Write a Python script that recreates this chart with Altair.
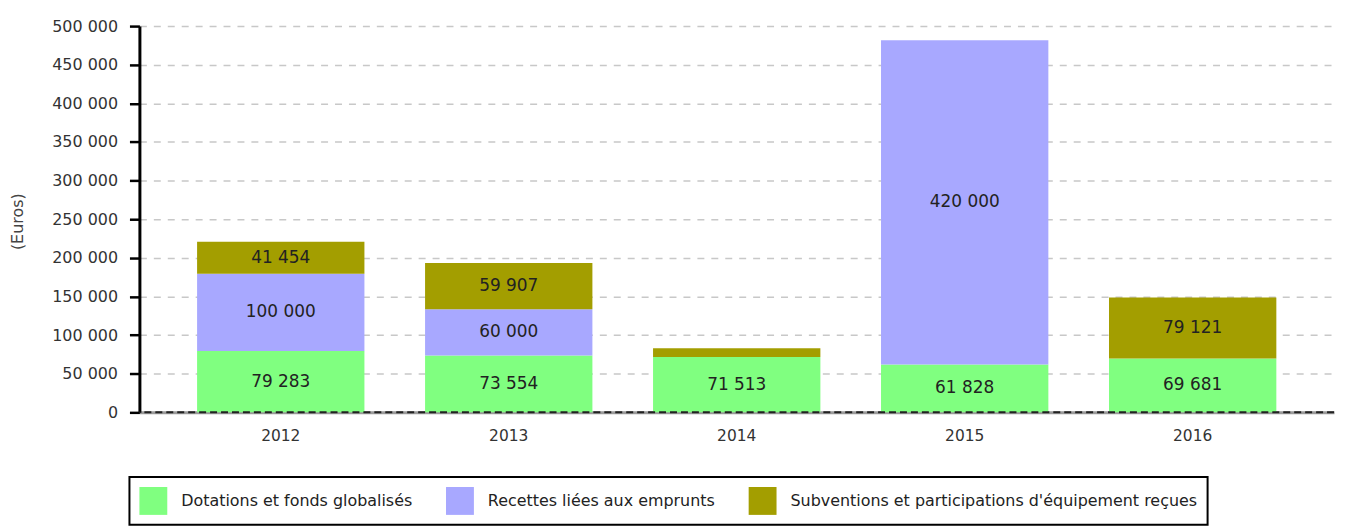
import altair as alt
import pandas as pd

years = ["2012", "2013", "2014", "2015", "2016"]
series = [
    "Dotations et fonds globalisés",
    "Recettes liées aux emprunts",
    "Subventions et participations d'équipement reçues",
]
dotations = [79283, 73554, 71513, 61828, 69681]
recettes = [100000, 60000, 0, 420000, 0]
subventions = [41454, 59907, 11500, 0, 79121]
colors = ["#80FF80", "#A8A8FF", "#A39E00"]
y_ticks = list(range(0, 500001, 50000))

rows = []
for i, yr in enumerate(years):
    for k, vals in enumerate([dotations, recettes, subventions]):
        rows.append({
            "year": yr,
            "serie": series[k],
            "ord": k,
            "value": vals[i],
            "label": f"{vals[i]:,}".replace(",", " "),
        })
df = pd.DataFrame(rows)

FONT = "DejaVu Sans"

x_axis = alt.Axis(
    title=None, labelAngle=0, ticks=False, domain=True,
    domainColor="#9a9a9a", domainWidth=3,
    labelFont=FONT, labelFontSize=15.5, labelColor="#333333", labelPadding=16,
    grid=False,
)
x_scale = alt.Scale(paddingInner=0.266, paddingOuter=0.253)

y_axis = alt.Axis(
    values=y_ticks,
    labelExpr="replace(format(datum.value, ','), ',', ' ')",
    labelOverlap=False,
    title="(Euros)",
    titleFont=FONT, titleFontSize=16, titleFontWeight="normal", titleColor="#444444",
    titleX=-114, titleY=196, titleAngle=-90, titleBaseline="bottom", titleAlign="center",
    labelFont=FONT, labelFontSize=16, labelColor="#333333", labelPadding=12,
    tickSize=10, tickWidth=2.5, tickColor="#000000",
    domainColor="#000000", domainWidth=3,
    grid=True, gridDash=[7, 7], gridColor="#c8c8c8", gridWidth=1.5,
)
y_scale = alt.Scale(domain=[0, 500000], nice=False)

bars = alt.Chart(df).mark_bar(stroke=None).encode(
    x=alt.X("year:N", sort=years, scale=x_scale, axis=x_axis),
    y=alt.Y("value:Q", stack="zero", scale=y_scale, axis=y_axis),
    color=alt.Color(
        "serie:N",
        scale=alt.Scale(domain=series, range=colors),
        legend=alt.Legend(
            title=None, orient="none", legendX=-10, legendY=453,
            direction="horizontal", columns=3,
            symbolType="square", symbolSize=784, symbolStrokeWidth=0,
            symbolOpacity=1,
            labelFont=FONT, labelFontSize=16, labelColor="#222222", labelLimit=0,
            labelOffset=14, columnPadding=33, padding=10,
            strokeColor="#000000",
        ),
    ),
    order=alt.Order("ord:Q", sort="ascending"),
)

texts = alt.Chart(df).transform_stack(
    stack="value", groupby=["year"], as_=["v0", "v1"],
    sort=[alt.SortField("ord", order="ascending")],
).transform_calculate(
    mid="(datum.v0 + datum.v1) / 2"
).transform_filter(
    "datum.value >= 20000"
).mark_text(font=FONT, fontSize=17, color="#222222", baseline="middle").encode(
    x=alt.X("year:N", sort=years, scale=x_scale, axis=x_axis),
    y=alt.Y("mid:Q", scale=y_scale, axis=y_axis),
    text="label:N",
)

zero_rule = alt.Chart(alt.Data(values=[{"z": 0}])).mark_rule(
    color="#222222", strokeWidth=2, strokeDash=[7, 4]
).encode(y=alt.Y("z:Q", scale=y_scale, axis=y_axis))

chart = alt.layer(bars, texts, zero_rule).properties(
    width=1200, height=388,
    padding={"left": 132, "top": 17, "right": 4, "bottom": 116},
    autosize=alt.AutoSizeParams(type="none"),
).configure_view(stroke=None).configure_legend(strokeWidth=2)

chart.save("out.html", embed_options={"renderer": "svg", "actions": False})
